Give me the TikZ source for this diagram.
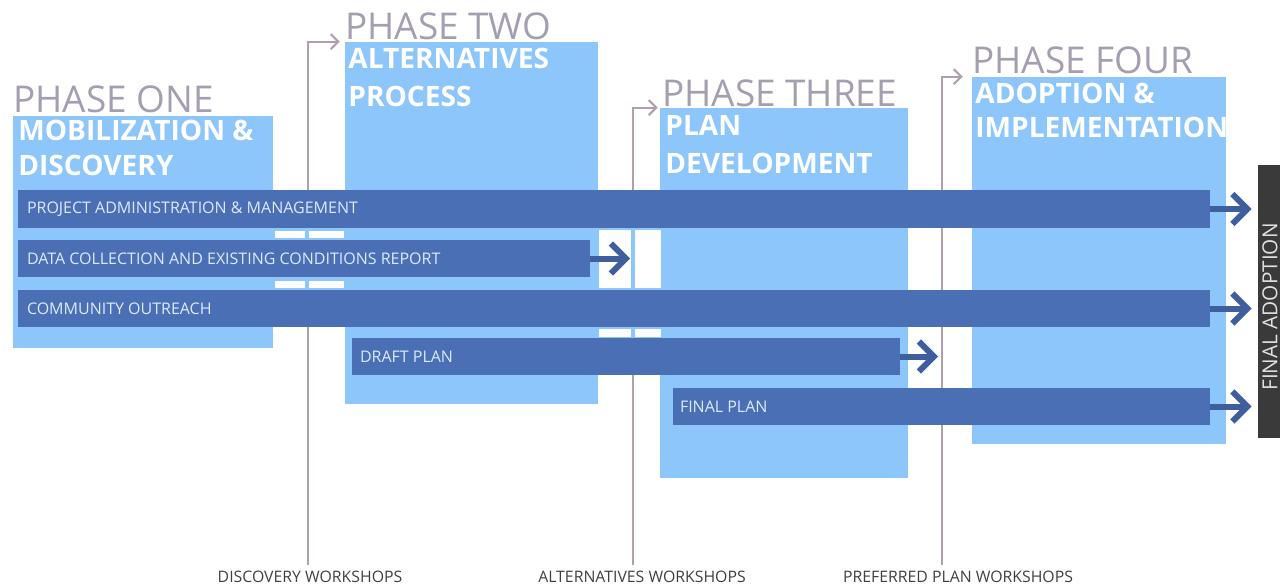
\documentclass[tikz,border=0pt]{standalone}
\usepackage{fontspec}
\setmainfont{Open Sans}
\usetikzlibrary{arrows.meta,fit,positioning}
\definecolor{phaseblue}{RGB}{140,198,250}
\definecolor{barblue}{RGB}{74,111,181}
\definecolor{arrowblue}{RGB}{63,94,158}
\definecolor{headgray}{RGB}{164,158,176}
\definecolor{wsmauve}{RGB}{176,160,174}
\definecolor{bartext}{RGB}{220,234,252}
\definecolor{adoptgray}{RGB}{58,58,58}
\tikzset{
  phase/.style={fill=phaseblue, inner sep=0pt},
  bar/.style={fill=barblue, inner sep=0pt},
  bartxt/.style={anchor=west, text=bartext, font=\fontsize{9.1}{10}\selectfont, inner sep=0pt, xshift=1.8mm},
  phasehead/.style={anchor=base west, text=headgray, font=\fontsize{21}{21}\selectfont, inner sep=0pt},
  phasetitle/.style={anchor=base west, text=white, font=\bfseries\fontsize{16}{18}\selectfont, inner sep=0pt},
  wsline/.style={wsmauve, line width=0.4mm, -{Straight Barb[length=1.5mm,width=3mm]}},
  barrow/.style={arrowblue, line width=1.2mm, -{Straight Barb[length=3mm,width=6mm]}},
  wslabel/.style={text=black!75, font=\fontsize{9}{10}\selectfont, inner sep=0pt},
}
\begin{document}
\begin{tikzpicture}[x=0.2mm, y=-0.2mm]
  \useasboundingbox (0,0) rectangle (1280,588);
  % phase columns
  \node[phase, fit={(13,116) (273,348)}] (p1) {};
  \node[phase, fit={(345,42) (598,404)}] (p2) {};
  \node[phase, fit={(660,108) (908,478)}] (p3) {};
  \node[phase, fit={(972,77) (1226,444)}] (p4) {};
  % workshop lines
  \coordinate (w1) at (308,565);
  \coordinate (w2) at (633,565);
  \coordinate (w3) at (942,565);
  \draw[wsline, shorten >=1mm] (w1) |- (p2.north west);
  \draw[wsline, shorten >=0.4mm] (w2) |- (p3.north west);
  \draw[wsline, shorten >=1.8mm] (w3) |- (p4.north west);
  % fill between the bars, with the gaps cut out
  \fill[phaseblue] (273,228) rectangle (345,240) (273,277) rectangle (345,290);
  \fill[phaseblue] (598,228) rectangle (660,290) (598,327) rectangle (660,338);
  \foreach \xa/\xb in {275/305,309/344}
    \foreach \ya/\yb in {231/238,281/288} \fill[white] (\xa,\ya) rectangle (\xb,\yb);
  \foreach \xa/\xb in {599/631,635/661}
    \foreach \ya/\yb in {230/288,329/337} \fill[white] (\xa,\ya) rectangle (\xb,\yb);
  % task bars
  \node[bar, fit={(18,190) (1210,228)}] (b1) {};
  \node[bar, fit={(18,240) (590,277)}] (b2) {};
  \node[bar, fit={(18,290) (1210,327)}] (b3) {};
  \node[bar, fit={(352,338) (900,375)}] (b4) {};
  \node[bar, fit={(673,388) (1210,425)}] (b5) {};
  \node[bartxt] at (b1.west) {PROJECT ADMINISTRATION \& MANAGEMENT};
  \node[bartxt] at (b2.west) {DATA COLLECTION AND EXISTING CONDITIONS REPORT};
  \node[bartxt] at (b3.west) {COMMUNITY OUTREACH};
  \node[bartxt, xshift=-0.2mm] at (b4.west) {DRAFT PLAN};
  \node[bartxt, xshift=-0.4mm] at (b5.west) {FINAL PLAN};
  % end marker
  \node[fill=adoptgray, inner sep=0pt, fit={(1258,165) (1280,438)}] (fa) {};
  \node[rotate=90, text=white!88!black, font=\fontsize{11.8}{12}\selectfont] at (1270,307) {FINAL ADOPTION};
  % arrows
  \draw[barrow, shorten >=1.2mm] (b1.east) -- (b1.east -| fa.west);
  \draw[barrow, shorten >=1.2mm] (b3.east) -- (b3.east -| fa.west);
  \draw[barrow, shorten >=1.2mm] (b5.east) -- (b5.east -| fa.west);
  \draw[barrow, shorten >=0.6mm] (b2.east) -- (b2.east -| w2);
  \draw[barrow, shorten >=0.8mm] (b4.east) -- (b4.east -| w3);
  % headings
  \node[phasehead] (h1) at (13,112) {PHASE ONE};
  \node[phasehead] (h2) at (345,39) {PHASE TWO};
  \node[phasehead] (h3) at (662,106) {PHASE THREE};
  \node[phasehead] (h4) at (972,73) {PHASE FOUR};
  \node[phasetitle] (t1) at (18,140) {MOBILIZATION \&};
  \node[phasetitle] (t1b) at (18,175) {DISCOVERY};
  \node[phasetitle] (t2) at (348,68) {ALTERNATIVES};
  \node[phasetitle] (t2b) at (348,106) {PROCESS};
  \node[phasetitle] (t3) at (665,135) {PLAN};
  \node[phasetitle] (t3b) at (665,173) {DEVELOPMENT};
  \node[phasetitle] (t4) at (975,103) {ADOPTION \&};
  \node[phasetitle] (t4b) at (975,137) {IMPLEMENTATION};
  % workshops
  \node[wslabel] (ws1) at (310,577) {DISCOVERY WORKSHOPS};
  \node[wslabel] (ws2) at (642,577) {ALTERNATIVES WORKSHOPS};
  \node[wslabel] (ws3) at (958,577) {PREFERRED PLAN WORKSHOPS};
\end{tikzpicture}
\end{document}
